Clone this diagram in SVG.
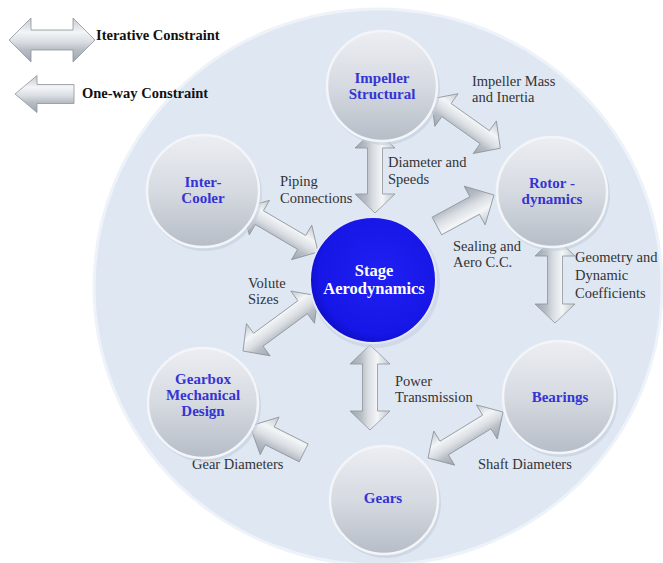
<svg xmlns="http://www.w3.org/2000/svg" width="663" height="563" viewBox="0 0 663 563">
  <defs>
    <linearGradient id="arrowFill" x1="0" y1="0" x2="0" y2="1">
      <stop offset="0" stop-color="#c3c8ce"/>
      <stop offset="0.32" stop-color="#f3f5f7"/>
      <stop offset="0.55" stop-color="#d9dde2"/>
      <stop offset="0.72" stop-color="#b8bec5"/>
      <stop offset="1" stop-color="#9ea5ad"/>
    </linearGradient>
    <linearGradient id="sphereFill" x1="0" y1="0" x2="0" y2="1">
      <stop offset="0" stop-color="#eceef2"/>
      <stop offset="0.5" stop-color="#d6dae1"/>
      <stop offset="1" stop-color="#b6bdc7"/>
    </linearGradient>
    <radialGradient id="stageFill" cx="0.55" cy="0.45" r="0.6">
      <stop offset="0" stop-color="#2020f4"/>
      <stop offset="0.8" stop-color="#1616e6"/>
      <stop offset="1" stop-color="#0c0cc0"/>
    </radialGradient>
    <style>
      text { font-family: "Liberation Serif", "Times New Roman", Tinos, "DejaVu Serif", serif; }
      .arrow { fill: url(#arrowFill); stroke: #8e949b; stroke-width: 0.8; stroke-linejoin: miter; }
      .sphere-shadow { fill: #c3cedc; opacity: 0.6; }
      .sphere { fill: url(#sphereFill); stroke: #f3f5f8; stroke-width: 2.5; }
      .title { font-weight: bold; font-size: 15px; fill: #3434d4; text-anchor: middle; }
      .stage-title { font-weight: bold; font-size: 16.5px; fill: #ffffff; text-anchor: middle; }
      .label { font-size: 14.5px; fill: #333333; }
      .legend { font-weight: bold; font-size: 14.5px; fill: #111111; }
    </style>
  </defs>

  <rect width="663" height="563" fill="#ffffff"/>

  <!-- backdrop disc -->
  <ellipse cx="378" cy="287" rx="284" ry="278" fill="#dfe7f3" stroke="#eef3f9" stroke-width="3"/>

  <!-- legend -->
  <g id="legend">
    <path class="arrow" transform="translate(9,40)" d="M0,0 L22,-22 L22,-10 L64,-10 L64,-22 L86,0 L64,22 L64,10 L22,10 L22,22 Z"/>
    <text class="legend" x="96" y="40">Iterative Constraint</text>
    <path class="arrow" transform="translate(15,94)" d="M0,0 L22,-18.5 L22,-9.5 L59,-9.5 L59,9.5 L22,9.5 L22,18.5 Z"/>
    <text class="legend" x="82" y="98">One-way Constraint</text>
  </g>

  <!-- connectors -->
  <g id="connectors">
    <!-- Impeller Structural <-> Stage Aerodynamics -->
    <path class="arrow" transform="translate(375,129) rotate(90)" d="M0,0 L19,-20 L19,-7.5 L65,-7.5 L65,-20 L84,0 L65,20 L65,7.5 L19,7.5 L19,20 Z"/>
    <!-- Impeller Structural <-> Rotor-dynamics -->
    <path class="arrow" transform="translate(431,99) rotate(35.4)" d="M0,0 L19,-20 L19,-8 L66,-8 L66,-20 L85,0 L66,20 L66,8 L19,8 L19,20 Z"/>
    <!-- Rotor-dynamics <-> below -->
    <path class="arrow" transform="translate(555,237) rotate(90)" d="M0,0 L19,-20 L19,-7.5 L67,-7.5 L67,-20 L86,0 L67,20 L67,7.5 L19,7.5 L19,20 Z"/>
    <!-- Inter-Cooler <-> Stage Aerodynamics -->
    <path class="arrow" transform="translate(243,208) rotate(30.4)" d="M0,0 L19,-20 L19,-8 L68,-8 L68,-20 L87,0 L68,20 L68,8 L19,8 L19,20 Z"/>
    <!-- Gearbox <-> Stage Aerodynamics -->
    <path class="arrow" transform="translate(243,351) rotate(-36.3)" d="M0,0 L19,-20 L19,-8 L74,-8 L74,-20 L93,0 L74,20 L74,8 L19,8 L19,20 Z"/>
    <!-- Stage Aerodynamics <-> Gears -->
    <path class="arrow" transform="translate(370,345) rotate(90)" d="M0,0 L19,-20 L19,-7.5 L66,-7.5 L66,-20 L85,0 L66,20 L66,7.5 L19,7.5 L19,20 Z"/>
    <!-- Gears <-> Bearings -->
    <path class="arrow" transform="translate(428,458) rotate(-31.5)" d="M0,0 L19,-20 L19,-8 L69,-8 L69,-20 L88,0 L69,20 L69,8 L19,8 L19,20 Z"/>
    <!-- Stage Aerodynamics -> Rotor-dynamics -->
    <path class="arrow" transform="translate(494,195) rotate(151.5)" d="M0,0 L22,-22 L22,-10 L65,-10 L65,10 L22,10 L22,22 Z"/>
    <!-- Gears -> Gearbox -->
    <path class="arrow" transform="translate(250,426) rotate(26.6)" d="M0,0 L22,-21 L22,-10 L60,-10 L60,10 L22,10 L22,21 Z"/>

    <text class="label" x="472" y="86">Impeller Mass</text>
    <text class="label" x="472" y="102">and Inertia</text>
    <text class="label" x="388" y="167">Diameter and</text>
    <text class="label" x="388" y="184">Speeds</text>
    <text class="label" x="280" y="186">Piping</text>
    <text class="label" x="280" y="203">Connections</text>
    <text class="label" x="453" y="251">Sealing and</text>
    <text class="label" x="453" y="267">Aero C.C.</text>
    <text class="label" x="575" y="262">Geometry and</text>
    <text class="label" x="575" y="280">Dynamic</text>
    <text class="label" x="575" y="298">Coefficients</text>
    <text class="label" x="248" y="288">Volute</text>
    <text class="label" x="248" y="304">Sizes</text>
    <text class="label" x="395" y="386">Power</text>
    <text class="label" x="395" y="402">Transmission</text>
    <text class="label" x="478" y="469">Shaft Diameters</text>
    <text class="label" x="192" y="469">Gear Diameters</text>
  </g>

  <!-- nodes -->
  <g id="node-impeller">
    <circle class="sphere-shadow" cx="384" cy="89" r="56"/>
    <circle class="sphere" cx="382" cy="86" r="55"/>
    <text class="title" x="382" y="83">Impeller</text>
    <text class="title" x="382" y="99">Structural</text>
  </g>
  <g id="node-intercooler">
    <circle class="sphere-shadow" cx="205" cy="194" r="57"/>
    <circle class="sphere" cx="203" cy="191" r="56"/>
    <text class="title" x="203" y="187">Inter-</text>
    <text class="title" x="203" y="203">Cooler</text>
  </g>
  <g id="node-rotor">
    <circle class="sphere-shadow" cx="554" cy="195" r="56"/>
    <circle class="sphere" cx="552" cy="192" r="55"/>
    <text class="title" x="552" y="188">Rotor -</text>
    <text class="title" x="552" y="204">dynamics</text>
  </g>
  <g id="node-stage">
    <circle cx="375" cy="283" r="65" fill="#c9d3e2" opacity="0.7"/>
    <circle cx="373" cy="280" r="63" fill="url(#stageFill)" stroke="#e4e8f6" stroke-width="2"/>
    <text class="stage-title" x="374" y="276">Stage</text>
    <text class="stage-title" x="374" y="294">Aerodynamics</text>
  </g>
  <g id="node-gearbox">
    <circle class="sphere-shadow" cx="205" cy="406" r="56"/>
    <circle class="sphere" cx="203" cy="403" r="55"/>
    <text class="title" x="203" y="384">Gearbox</text>
    <text class="title" x="203" y="400">Mechanical</text>
    <text class="title" x="203" y="416">Design</text>
  </g>
  <g id="node-bearings">
    <circle class="sphere-shadow" cx="561" cy="400" r="57"/>
    <circle class="sphere" cx="559" cy="397" r="56"/>
    <text class="title" x="560" y="402">Bearings</text>
  </g>
  <g id="node-gears">
    <circle class="sphere-shadow" cx="386" cy="503" r="55"/>
    <circle class="sphere" cx="384" cy="500" r="54"/>
    <text class="title" x="383" y="503">Gears</text>
  </g>
</svg>
